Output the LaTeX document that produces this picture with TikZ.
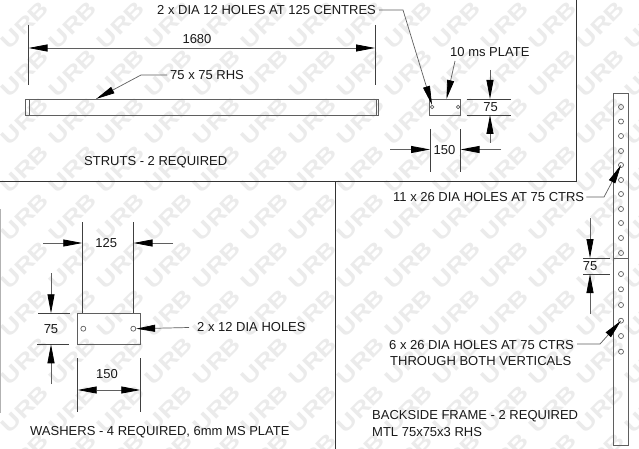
\documentclass[tikz,border=0pt]{standalone}
\usepackage{fontspec}
\setmainfont{Liberation Sans}
\usetikzlibrary{arrows.meta}
\definecolor{urbgrey}{RGB}{235,235,235}
\definecolor{linegrey}{RGB}{95,95,95}
\tikzset{
  watermark/.style={text=urbgrey, font=\bfseries\fontsize{21}{21}\selectfont, rotate=45, inner sep=0pt},
  panel/.style={draw=black!80, line width=1pt},
  part/.style={draw=linegrey, line width=0.9pt, inner sep=0pt, outer sep=0pt},
  hole/.style={draw=linegrey, line width=0.7pt, circle, inner sep=0pt, minimum size=5pt},
  extline/.style={draw=black!75, line width=0.7pt},
  dimline/.style={draw=linegrey, line width=0.8pt, -{Triangle[length=19pt,width=7pt,color=black]}},
  leader/.style={draw=linegrey, line width=0.7pt, -{Triangle[length=19pt,width=7pt,color=black]}},
  label/.style={text=black!90, font=\fontsize{13}{15}\selectfont, inner sep=0pt}
}
\begin{document}
\begin{tikzpicture}[x=1pt,y=-1pt]
\useasboundingbox (0,0) rectangle (639,449);
\fill[white] (0,0) rectangle (639,449);
% watermark grid
\foreach \xpos in {25,73,...,650}
  \foreach \ypos in {25,73,...,460}
    \node[watermark] (wm-\xpos-\ypos) at (\xpos,\ypos) {\scalebox{1.25}[1]{URB}};
% panel borders
\draw[panel] (0,181.5) -- (576,181.5) -- (576,0);
\draw[panel] (335,181.5) -- (335,449);
\draw[draw=black!30, line width=1pt] (0,209) -- (0,413);
% struts
\node[part, minimum width=353pt, minimum height=16pt] (strut) at (202,107) {};
\draw[part] (29,99) -- (29,115);
\draw[part] (376,99) -- (376,115);
\draw[extline] (28.5,25) -- (28.5,85);
\draw[extline] (375,25) -- (375,85);
\coordinate (lenleft) at (28.5,48);
\coordinate (lenright) at (375,48);
\draw[dimline, {Triangle[length=19pt,width=7pt,color=black]}-{Triangle[length=19pt,width=7pt,color=black]}] (lenleft) -- (lenright);
\node[label] (lenlabel) at (197,39) {1680};
\node[label, anchor=west] (rhslabel) at (170,75) {75 x 75 RHS};
\coordinate (rhsknee) at (141,75);
\coordinate (rhstip) at (96,99);
\draw[leader] (rhslabel.west) ++(-3,0) -- (rhsknee) -- (rhstip);
\node[label, anchor=west] (strutlabel) at (84,162) {STRUTS - 2 REQUIRED};
% strut end plate
\node[part, minimum width=31pt, minimum height=16pt] (plate) at (445.2,107) {};
\node[hole, minimum size=3.5pt] (platehole1) at (432,107) {};
\node[hole, minimum size=3.5pt] (platehole2) at (458,107) {};
\node[label, anchor=west] (holelabel) at (157,10) {2 x DIA 12 HOLES AT 125 CENTRES};
\coordinate (holeknee) at (403,10);
\draw[leader] (holelabel.east) ++(3,0) -- (holeknee) -- (platehole1.north);
\node[label, anchor=west] (platelabel) at (450,52) {10 ms PLATE};
\coordinate (platestart) at (455,61);
\coordinate (platetip) at (446.5,99);
\draw[leader] (platestart) -- (platetip);
\draw[extline] (466.5,99) -- (511,99);
\draw[extline] (466.5,115) -- (511,115);
\coordinate (platetop) at (490,99);
\coordinate (platebot) at (490,115);
\draw[dimline] (490,70) -- (platetop);
\draw[dimline] (490,143) -- (platebot);
\node[label] (platehigh) at (490.5,107) {75};
\draw[extline] (430,129) -- (430,172);
\draw[extline] (460.5,129) -- (460.5,172);
\coordinate (plateleft) at (430,149.5);
\coordinate (plateright) at (460.5,149.5);
\draw[dimline] (390,149.5) -- (plateleft);
\draw[dimline] (501,149.5) -- (plateright);
\node[label] (platewide) at (444.5,150) {150};
% backside frame
\node[part, minimum width=15.7pt, minimum height=352.7pt] (frame) at (620.9,269.4) {};
\draw[part] (613,258) -- (628.7,258);
\foreach \n/\ypos in {1/107,2/121.5,3/136,4/151,5/165,6/180,7/194,8/209,9/223,10/238,11/253}
  \node[hole] (upper\n) at (621,\ypos) {};
\foreach \n/\ypos in {1/274,2/289.3,3/305,4/320.7,5/336,6/351.7}
  \node[hole] (lower\n) at (621,\ypos) {};
\node[label, anchor=west] (upperlabel) at (393,197) {11 x 26 DIA HOLES AT 75 CTRS};
\coordinate (upperknee) at (604,197);
\draw[leader] (upperlabel.east) ++(2,0) -- (upperknee) -- (upper5.center);
\node[label, anchor=west] (lowerlabel) at (389,345) {6 x 26 DIA HOLES AT 75 CTRS};
\node[label, anchor=west] (throughlabel) at (390,361) {THROUGH BOTH VERTICALS};
\coordinate (lowerknee) at (600,344);
\draw[leader] (lowerlabel.east) ++(3,-1) -- (lowerknee) -- (lower4.center);
\draw[extline] (583,258) -- (610,258);
\draw[extline] (583,274) -- (610,274);
\coordinate (frametop) at (590,258);
\coordinate (framebot) at (590,274);
\draw[dimline] (590,218) -- (frametop);
\draw[dimline] (590,314) -- (framebot);
\node[label] (framehigh) at (590,266) {75};
\node[label, anchor=west] (framelabel) at (372,416) {BACKSIDE FRAME - 2 REQUIRED};
\node[label, anchor=west] (mtllabel) at (372,432) {MTL 75x75x3 RHS};
% washers
\node[part, minimum width=62.6pt, minimum height=31pt] (washer) at (109,328.8) {};
\node[hole] (washhole1) at (83.3,328.7) {};
\node[hole] (washhole2) at (133.3,328.7) {};
\draw[extline] (82.3,222) -- (82.3,313);
\draw[extline] (133.5,222) -- (133.5,313);
\coordinate (pitchleft) at (82.3,243);
\coordinate (pitchright) at (133.5,243);
\draw[dimline] (43,243) -- (pitchleft);
\draw[dimline] (173,243) -- (pitchright);
\node[label] (pitchlabel) at (106.3,243) {125};
\draw[extline] (38,313.3) -- (70,313.3);
\draw[extline] (37,344.3) -- (68.5,344.3);
\coordinate (washtop) at (51,313.3);
\coordinate (washbot) at (51,344.3);
\draw[dimline] (51,273) -- (washtop);
\draw[dimline] (51,384) -- (washbot);
\node[label] (washhigh) at (51,329) {75};
\draw[extline] (77.7,358) -- (77.7,412);
\draw[extline] (140.3,358) -- (140.3,412);
\coordinate (washleft) at (77.7,390);
\coordinate (washright) at (140.3,390);
\draw[dimline, {Triangle[length=19pt,width=7pt,color=black]}-{Triangle[length=19pt,width=7pt,color=black]}] (washleft) -- (washright);
\node[label] (washwide) at (107,374) {150};
\node[label, anchor=west] (washhole) at (197,327) {2 x 12 DIA HOLES};
\draw[leader] (washhole.west) ++(-8,0.5) -- (washhole2.east);
\node[label, anchor=west] (washlabel) at (30,432) {WASHERS - 4 REQUIRED, 6mm MS PLATE};
\end{tikzpicture}
\end{document}
